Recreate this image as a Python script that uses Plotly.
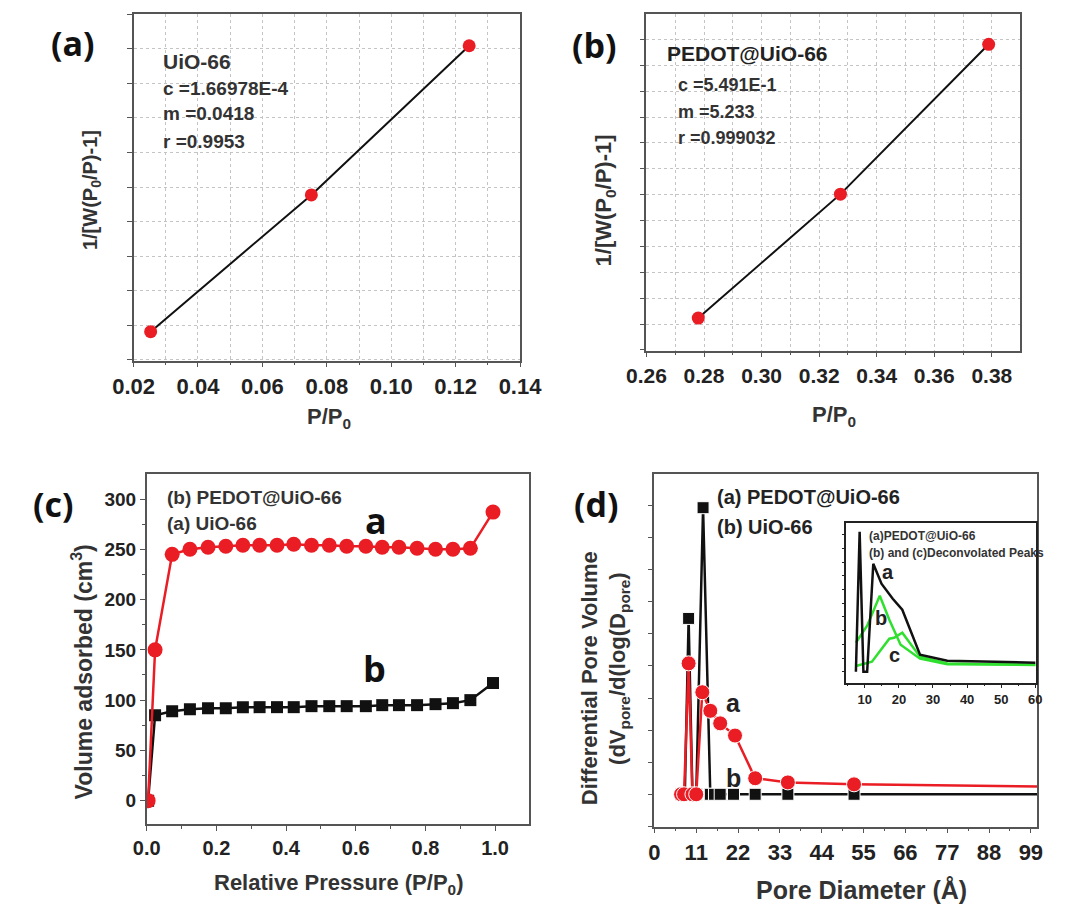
import plotly.graph_objects as go

W, H = 1067, 905

# ---------------- data ----------------
# (a) BET plot, UiO-66
a_x = [0.0253, 0.0752, 0.1242]
a_y = [-0.19, 3.77, 8.09]
# (b) BET plot, PEDOT@UiO-66
b_x = [0.278, 0.3274, 0.3789]
b_y = [0.23, 5.02, 10.81]
# (c) N2 adsorption isotherms
c_p = [0.004, 0.024, 0.073, 0.124, 0.176, 0.227, 0.276, 0.324, 0.374, 0.422, 0.473,
       0.524, 0.574, 0.629, 0.676, 0.724, 0.776, 0.829, 0.879, 0.929, 0.994]
c_pedot = [0, 150, 245, 250, 252, 253, 254, 254, 254, 255, 254,
           254, 253, 253, 252, 252, 251, 250, 250, 251, 287]
c_uio = [0, 85, 89, 91, 92, 92, 93, 93, 93, 93, 94,
         94, 94, 94, 95, 95, 95, 96, 97, 100, 117]
# (d) pore size distribution
d_uio_x = [7, 8, 9, 10, 11, 12.8, 14.7, 15.8, 17.3, 20.8, 26.5, 35.1, 52.5, 101]
d_uio_y = [0, 0, 5.48, 0, 0, 8.93, 0, 0, 0, 0, 0, 0, 0, 0]
d_pedot_x = [7, 7.8, 9, 10, 11, 12.6, 14.7, 17.3, 21.2, 26.5, 35.1, 52.5, 101]
d_pedot_y = [0, 0, 4.08, 0, 0, 3.18, 2.6, 2.21, 1.83, 0.5, 0.37, 0.31, 0.24]
# (d) inset: PEDOT@UiO-66 and deconvolated peaks
ins_a_x = [7.4, 8.5, 9.6, 10.7, 12.5, 14.9, 18.2, 21.0, 26.2, 34.2, 60]
ins_a_y = [0, 14.0, 0, 0, 10.8, 8.8, 7.3, 6.2, 1.7, 1.1, 0.9]
ins_b_x = [7.4, 10.7, 14.4, 17.2, 20.5, 26.2, 34.2, 60]
ins_b_y = [2.9, 4.6, 7.6, 5.2, 2.7, 1.3, 0.75, 0.7]
ins_c_x = [7.4, 12.1, 17.2, 18.6, 21.0, 26.2, 34.2, 60]
ins_c_y = [0.57, 1.0, 3.3, 3.4, 3.9, 1.5, 0.83, 0.67]

d_xticks = [0, 11, 22, 33, 44, 55, 66, 77, 88, 99]

RED = "#ea1c24"
BLK = "#111111"
GRN = "#2fe02f"
FONT = "Liberation Sans"
BIG = "Open Sans"


def px(x):
    return x / W


def py(y):
    return 1 - y / H


fig = go.Figure()

# (a)
fig.add_trace(go.Scatter(x=a_x, y=a_y, mode="lines+markers", xaxis="x", yaxis="y",
                         line=dict(color=BLK, width=2),
                         marker=dict(color=RED, size=13, symbol="circle", opacity=1)))
# (b)
fig.add_trace(go.Scatter(x=b_x, y=b_y, mode="lines+markers", xaxis="x2", yaxis="y2",
                         line=dict(color=BLK, width=2),
                         marker=dict(color=RED, size=13, symbol="circle", opacity=1)))
# (c)
fig.add_trace(go.Scatter(x=c_p, y=c_uio, mode="lines+markers", xaxis="x3", yaxis="y3",
                         line=dict(color=BLK, width=2.5),
                         marker=dict(color=BLK, size=12, symbol="square", opacity=1)))
fig.add_trace(go.Scatter(x=c_p, y=c_pedot, mode="lines+markers", xaxis="x3", yaxis="y3",
                         line=dict(color=RED, width=2.5),
                         marker=dict(color=RED, size=15, symbol="circle", opacity=1)))
# (d)
fig.add_trace(go.Scatter(x=d_uio_x, y=d_uio_y, mode="lines+markers", xaxis="x4", yaxis="y4",
                         line=dict(color=BLK, width=2.5),
                         marker=dict(color=BLK, symbol="square", opacity=1,
                                     size=[12] * (len(d_uio_x) - 1) + [0])))
fig.add_trace(go.Scatter(x=d_pedot_x, y=d_pedot_y, mode="lines+markers", xaxis="x4", yaxis="y4",
                         line=dict(color=RED, width=2.5),
                         marker=dict(color=RED, symbol="circle", opacity=1,
                                     size=[15] * (len(d_pedot_x) - 1) + [0])))
# inset
fig.add_trace(go.Scatter(x=ins_b_x, y=ins_b_y, mode="lines", xaxis="x5", yaxis="y5",
                         line=dict(color=GRN, width=2.5)))
fig.add_trace(go.Scatter(x=ins_c_x, y=ins_c_y, mode="lines", xaxis="x5", yaxis="y5",
                         line=dict(color=GRN, width=2.5)))
fig.add_trace(go.Scatter(x=ins_a_x, y=ins_a_y, mode="lines", xaxis="x5", yaxis="y5",
                         line=dict(color=BLK, width=2.5)))

AXC = "#555555"
GRID = "#c4c4c4"


def ax(domain, rng, size=19, labels=True, anchor=None, **kw):
    d = dict(domain=domain, range=rng, showline=True, linecolor=AXC, linewidth=1.5,
             mirror=True, ticks="outside", ticklen=5, tickwidth=1.3, tickcolor=AXC,
             zeroline=False, showgrid=False, showticklabels=labels,
             tickfont=dict(family=FONT, size=size, color="#222222", weight="bold"),
             anchor=anchor)
    d.update(kw)
    return d


grid_kw = dict(showgrid=True, gridcolor=GRID, griddash="dot", gridwidth=1)

fig.update_layout(
    width=W, height=H, margin=dict(l=0, r=0, t=0, b=0),
    paper_bgcolor="white", plot_bgcolor="rgba(0,0,0,0)", showlegend=False,
    # (a)
    xaxis=ax([px(117.3), px(520)], [0.02, 0.14], size=22, anchor="y",
             tick0=0.02, dtick=0.02, tickformat=".2f",
             minor=dict(dtick=0.01, ticks="outside", ticklen=3, tickcolor=AXC, **grid_kw), **grid_kw),
    yaxis=ax([py(360.7), py(14)], [-1.03, 9.01], labels=False, anchor="x",
             tick0=0, dtick=1, **grid_kw),
    # (b)
    xaxis2=ax([px(651.7), px(1041)], [0.26, 0.3898], size=21, anchor="y2",
              tick0=0.26, dtick=0.02, tickformat=".2f",
              minor=dict(dtick=0.01, ticks="outside", ticklen=3, tickcolor=AXC, **grid_kw), **grid_kw),
    yaxis2=ax([py(350.7), py(14)], [-1.03, 11.98], labels=False, anchor="x2",
              tick0=0, dtick=1, **grid_kw),
    # (c)
    xaxis3=ax([px(131), px(529)], [0, 1.0964], size=20, anchor="y3",
              tick0=0, dtick=0.2, tickformat=".1f",
              minor=dict(dtick=0.1, ticks="outside", ticklen=3, tickcolor=AXC)),
    yaxis3=ax([py(824.3), py(474)], [-23.5, 324.9], size=19, anchor="x3",
              tick0=0, dtick=50,
              minor=dict(dtick=25, ticks="outside", ticklen=3, tickcolor=AXC)),
    # (d)
    xaxis4=ax([px(660), px(1059)], [0, 100.7], size=22, anchor="y4",
              tickmode="array", tickvals=d_xticks, ticktext=[str(v) for v in d_xticks],
              minor=dict(dtick=5.5, ticks="outside", ticklen=3, tickcolor=AXC)),
    yaxis4=ax([py(826.7), py(474)], [-1.01, 9.98], labels=False, anchor="x4",
              tick0=0, dtick=1),
    # inset
    xaxis5=ax([px(860), px(1058)], [4.6, 60.3], size=13, anchor="y5",
              tick0=0, dtick=10, ticklen=4, linecolor="#222", tickcolor="#222",
              minor=dict(dtick=5, ticks="outside", ticklen=2, tickcolor="#222")),
    yaxis5=ax([py(682.7), py(522.7)], [-1.1, 14.9], labels=False, anchor="x5",
              tick0=0, dtick=1.37, ticklen=3, linecolor="#222", tickcolor="#222"),
)

ann = []


def text(x, y, s, size, xanchor="center", family=FONT, color="#222222", angle=0, bold=True):
    ann.append(dict(x=px(x), y=py(y), xref="paper", yref="paper", text=(f"<b>{s}</b>" if bold else s),
                    showarrow=False, xanchor=xanchor, yanchor="middle", textangle=angle,
                    font=dict(family=family, size=size, color=color)))


# panel labels
text(54.5, 43, "(a)", 34, family=BIG, color="#111")
text(597.6, 45, "(b)", 34, family=BIG, color="#111")
text(33.6, 504, "(c)", 34, family=BIG, color="#111")
text(600, 504, "(d)", 34, family=BIG, color="#111")

# (a) texts
text(146, 62, "UiO-66", 21, xanchor="left", color="#333")
text(146, 88, "c =1.66978E-4", 19, xanchor="left", color="#333")
text(146, 114, "m =0.0418", 19, xanchor="left", color="#333")
text(146, 142, "r =0.9953", 19, xanchor="left", color="#333")
text(73, 190, "1/[W(P<sub>0</sub>/P)-1]", 20, angle=-90, color="#333")
text(321, 418, "P/P<sub>0</sub>", 22, color="#333")

# (b) texts
text(671, 53, "PEDOT@UiO-66", 21, xanchor="left", color="#222")
text(683, 85, "c =5.491E-1", 18, xanchor="left", color="#333")
text(683, 112, "m =5.233", 18, xanchor="left", color="#333")
text(683, 138, "r =0.999032", 18, xanchor="left", color="#333")
text(609, 200, "1/[W(P<sub>0</sub>/P)-1]", 22, angle=-90, color="#333")
text(847, 416, "P/P<sub>0</sub>", 22, color="#333")

# (c) texts
text(150.5, 497, "(b) PEDOT@UiO-66", 19, xanchor="left", color="#333")
text(150.5, 523, "(a) UiO-66", 19, xanchor="left", color="#333")
text(370, 520, "a", 36, family=BIG, color="#111")
text(368.5, 668, "b", 36, family=BIG, color="#111")
text(64, 672, "Volume adsorbed (cm<sup>3</sup>)", 23, angle=-90, color="#333")
text(331, 884, "Relative Pressure (P/P<sub>0</sub>)", 22, color="#333")

# (d) texts
text(723, 497, "(a) PEDOT@UiO-66", 20, xanchor="left", color="#222")
text(723, 527, "(b) UiO-66", 20, xanchor="left", color="#222")
text(742, 703, "a", 25, color="#222")
text(742, 778, "b", 25, color="#222")
text(592, 678, "Differential Pore Volume", 22, angle=-90, color="#333")
text(623, 668, "(dV<sub>pore</sub>/d(log(D<sub>pore</sub>)", 22, angle=-90, color="#333")
text(876, 890, "Pore Diameter (Å)", 25, color="#333")

# inset texts
text(881.7, 536, "(a)PEDOT@UiO-66", 12, xanchor="left", color="#333")
text(881.7, 553, "(b) and (c)Deconvolated Peaks", 12, xanchor="left", color="#333")
text(903, 572, "a", 20, color="#222")
text(896, 618, "b", 20, color="#222")
text(910, 655, "c", 20, color="#222")

fig.update_layout(annotations=ann)

fig.write_html("out.html", config={"displayModeBar": False},
               post_script="document.body.style.margin='0px';")
